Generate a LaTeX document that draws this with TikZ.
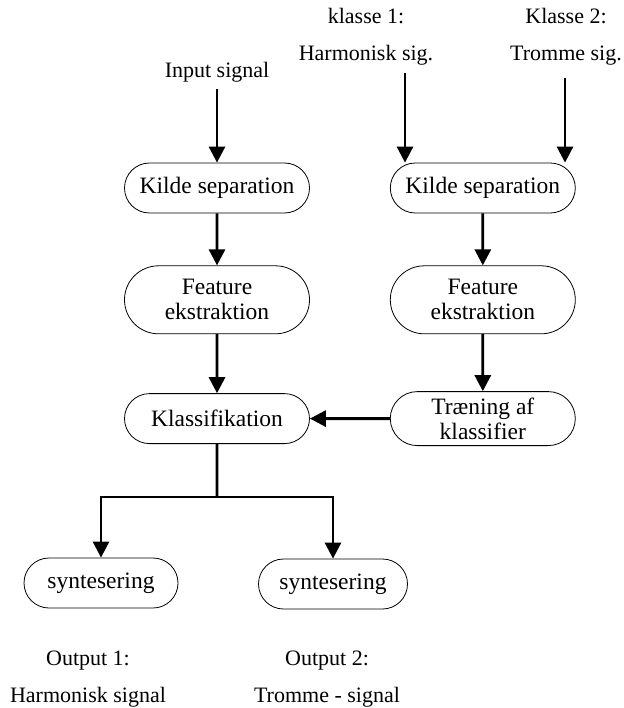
\documentclass[tikz,border=0pt]{standalone}
\usepackage{fontspec}
\setmainfont{Liberation Serif}
\usetikzlibrary{shapes.misc,arrows.meta,positioning}
\tikzset{
	procbox/.style={rounded rectangle, draw=black, line width=0.8pt, fill=white,
		minimum height=50pt, minimum width=189pt, align=center, inner sep=2pt,
		font=\fontsize{23.5}{25}\selectfont},
	flowarr/.style={-{Triangle[length=16pt,width=16pt]}, line width=2.8pt},
	flowline/.style={line width=2.8pt},
	lbltext/.style={align=center, inner sep=1pt, font=\fontsize{22}{37}\selectfont}
}
\begin{document}
\begin{tikzpicture}[x=1pt, y=-1pt]
	\useasboundingbox (0,0) rectangle (623,708);
	% venstre gren
	\node[procbox] (kildeL) at (217,188) {Kilde separation};
	\node[procbox, below=52pt of kildeL, minimum height=68pt] (featL) {Feature\\ekstraktion};
	\node[procbox, below=59pt of featL] (klass) {Klassifikation};
	% hoejre gren
	\node[procbox, right=80pt of klass, minimum height=54pt] (traen) {Træning af\\klassifier};
	\node[procbox, above=57pt of traen, minimum height=68pt] (featR) {Feature\\ekstraktion};
	\node[procbox, above=52pt of featR] (kildeR) {Kilde separation};
	% syntese
	\node[procbox, minimum width=158pt] (syntL) at (101,583) {syntesering};
	\node[procbox, minimum width=153pt] (syntR) at (333,584) {syntesering};
	% tekster
	\node[lbltext] (input) at (217,72) {Input signal};
	\node[lbltext] (kl1) at (366,37) {klasse 1:\\Harmonisk sig.};
	\node[lbltext] (kl2) at (566,37) {Klasse 2:\\Tromme sig.};
	\node[lbltext] (out1) at (88,679) {Output 1:\\Harmonisk signal};
	\node[lbltext] (out2) at (327,679) {Output 2:\\Tromme - signal};
	\coordinate (k1) at (405,73);
	\coordinate (k2) at (565,78);
	\coordinate (split) at (217,497);
	% pile
	\draw[flowarr] (input.south) ++(0,6) -- (kildeL.north);
	\draw[flowarr] (k1) -- (kildeR.north -| k1);
	\draw[flowarr] (k2) -- (kildeR.north -| k2);
	\draw[flowarr] (kildeL) -- (featL);
	\draw[flowarr] (featL) -- (klass);
	\draw[flowarr] (kildeR) -- (featR);
	\draw[flowarr] (featR) -- (traen);
	\draw[flowarr] (traen) -- (klass);
	\draw[flowline] (klass) -- (split);
	\draw[flowarr] (split) -| (syntL.north);
	\draw[flowarr] (split) -| (syntR.north);
\end{tikzpicture}
\end{document}
